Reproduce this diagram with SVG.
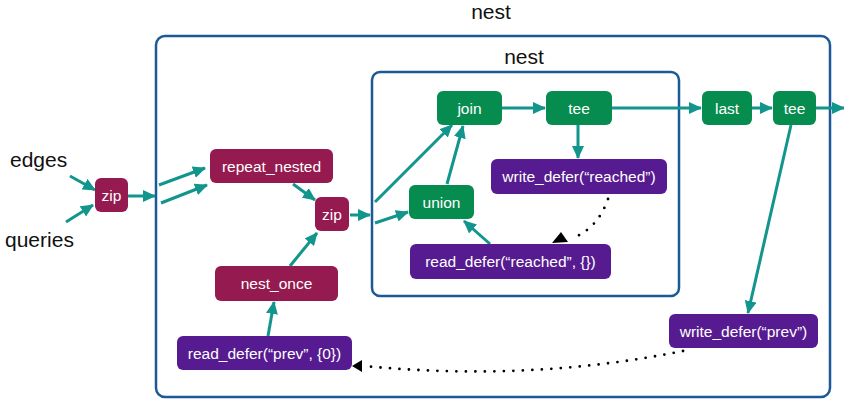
<svg xmlns="http://www.w3.org/2000/svg" width="844" height="402" viewBox="0 0 844 402">
<style>
.lbl{font-family:"Liberation Sans",Arial,sans-serif;font-size:21px;fill:#111}
.nt{font-family:"Liberation Sans",Arial,sans-serif;font-size:15.5px;fill:#fff;text-anchor:middle;dominant-baseline:central}
.m{fill:#951a50}
.g{fill:#078c50}
.p{fill:#561b90}
.box{fill:none;stroke:#1c5a97;stroke-width:2.5}
.e{fill:none;stroke:#11958d;stroke-width:3;marker-end:url(#ah)}
.d{fill:none;stroke:#000;stroke-width:2.8;stroke-linecap:round;stroke-dasharray:0 9.5}
</style>
<defs>
<marker id="ah" markerUnits="userSpaceOnUse" markerWidth="13" markerHeight="12" viewBox="0 0 13 12" refX="12" refY="6" orient="auto">
<path d="M0,0 L13,6 L0,12 z" fill="#11958d"/>
</marker>
</defs>
<g id="containers">
<rect class="box" x="156" y="36" width="674" height="361" rx="9"/>
<text class="lbl" x="491" y="19" text-anchor="middle">nest</text>
<rect class="box" x="372" y="72" width="307" height="224" rx="8"/>
<text class="lbl" x="524" y="64" text-anchor="middle">nest</text>
</g>
<g id="inputs">
<text class="lbl" x="10" y="167">edges</text>
<text class="lbl" x="5" y="247">queries</text>
</g>
<g id="connectors">
<line class="e" x1="70" y1="176" x2="95" y2="190"/>
<line class="e" x1="66" y1="222" x2="93" y2="205"/>
<line class="e" x1="128" y1="196" x2="155" y2="196"/>
<line class="e" x1="159" y1="185" x2="205" y2="168"/>
<line class="e" x1="161" y1="203" x2="207" y2="185"/>
<line class="e" x1="293" y1="184" x2="315" y2="200"/>
<line class="e" x1="350" y1="215" x2="370" y2="215"/>
<line class="e" x1="290" y1="266" x2="317" y2="233"/>
<line class="e" x1="268" y1="336" x2="274" y2="302"/>
<line class="e" x1="375" y1="202" x2="452" y2="125"/>
<line class="e" x1="375" y1="223" x2="408" y2="212"/>
<line class="e" x1="447" y1="184" x2="463" y2="126"/>
<line class="e" x1="490" y1="244" x2="464" y2="221"/>
<line class="e" x1="502" y1="108" x2="545" y2="108"/>
<line class="e" x1="578" y1="125" x2="578" y2="158"/>
<line class="e" x1="612" y1="108" x2="701" y2="108"/>
<line class="e" x1="752" y1="108" x2="772" y2="108"/>
<line class="e" x1="816" y1="108" x2="844" y2="108"/>
<line class="e" x1="791" y1="125" x2="748" y2="313"/>
<path class="d" d="M608,199 Q598,228 573,238"/>
<polygon points="561,232 552,243 568,242" fill="#000"/>
<path class="d" d="M683,351 Q530,382 364,366"/>
<polygon points="352,366 362,360 362,372" fill="#000"/>
</g>
<g id="zip1"><rect class="m" x="95" y="178" width="33" height="34" rx="6"/><text class="nt" x="111.5" y="195">zip</text></g>
<g id="repeat_nested"><rect class="m" x="210" y="149" width="123" height="34" rx="6"/><text class="nt" x="271.5" y="166">repeat_nested</text></g>
<g id="zip2"><rect class="m" x="315" y="197" width="34" height="34" rx="6"/><text class="nt" x="332" y="214">zip</text></g>
<g id="nest_once"><rect class="m" x="215" y="266" width="123" height="35" rx="6"/><text class="nt" x="276.5" y="283.5">nest_once</text></g>
<g id="read_defer_prev"><rect class="p" x="177" y="336" width="175" height="34" rx="6"/><text class="nt" x="264.5" y="353">read_defer(“prev”, {0})</text></g>
<g id="join"><rect class="g" x="437" y="91" width="65" height="34" rx="6"/><text class="nt" x="469.5" y="108">join</text></g>
<g id="tee1"><rect class="g" x="546" y="91" width="66" height="34" rx="6"/><text class="nt" x="579" y="108">tee</text></g>
<g id="write_defer_reached"><rect class="p" x="491" y="159" width="176" height="35" rx="6"/><text class="nt" x="579" y="176.5">write_defer(“reached”)</text></g>
<g id="union"><rect class="g" x="409" y="185" width="65" height="34" rx="6"/><text class="nt" x="441.5" y="202">union</text></g>
<g id="read_defer_reached"><rect class="p" x="410" y="244" width="201" height="35" rx="6"/><text class="nt" x="510.5" y="261.5">read_defer(“reached”, {})</text></g>
<g id="last"><rect class="g" x="702" y="91" width="50" height="34" rx="6"/><text class="nt" x="727" y="108">last</text></g>
<g id="tee2"><rect class="g" x="773" y="91" width="43" height="34" rx="6"/><text class="nt" x="794.5" y="108">tee</text></g>
<g id="write_defer_prev"><rect class="p" x="669" y="314" width="149" height="34" rx="6"/><text class="nt" x="743.5" y="331">write_defer(“prev”)</text></g>
</svg>
